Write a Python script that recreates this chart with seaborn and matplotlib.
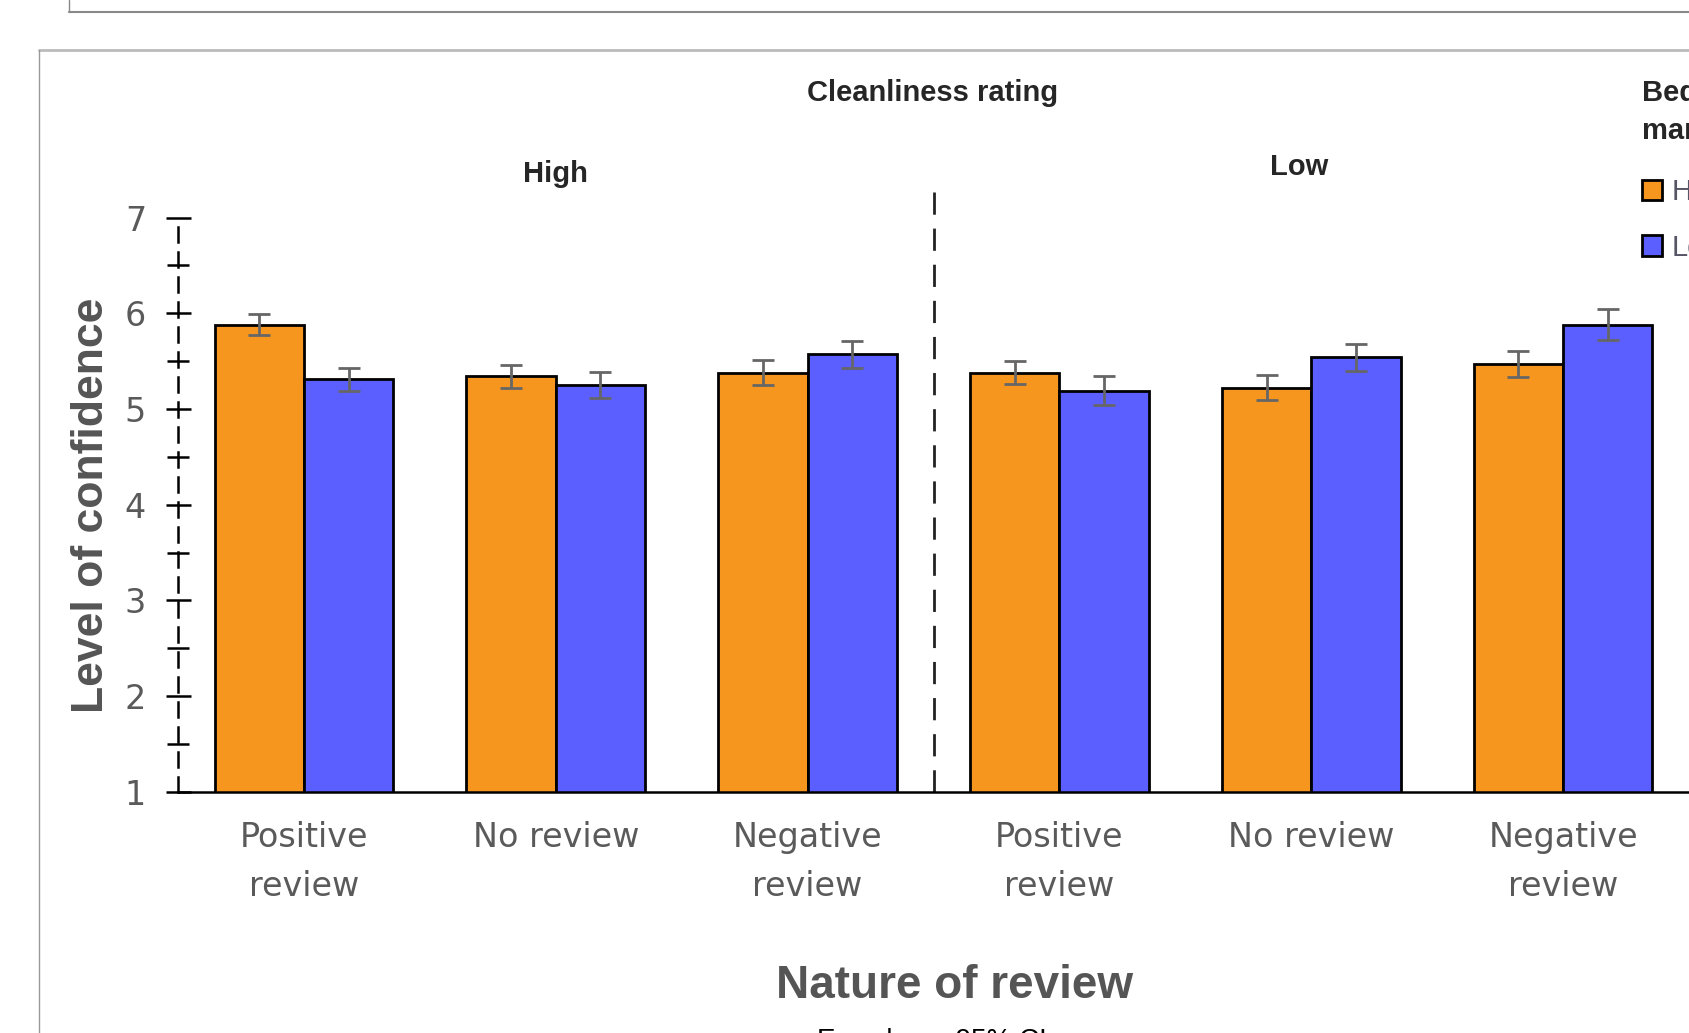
import matplotlib
matplotlib.use('Agg')
from matplotlib import pyplot as plt
from matplotlib.lines import Line2D
from matplotlib.patches import Patch
from matplotlib.ticker import MultipleLocator
from matplotlib.transforms import blended_transform_factory
import seaborn as sns
import pandas as pd

# data
cleanliness = ['High', 'High', 'High', 'Low', 'Low', 'Low']
reviews = ['Positive\nreview', 'No review', 'Negative\nreview'] * 2
levels = ['High', 'Low']
high_means = [5.88, 5.34, 5.38, 5.38, 5.22, 5.47]
high_errs = [0.11, 0.12, 0.13, 0.12, 0.13, 0.14]
low_means = [5.31, 5.25, 5.57, 5.19, 5.54, 5.88]
low_errs = [0.12, 0.14, 0.14, 0.15, 0.14, 0.16]
colors = ['#F7961E', '#5B5FFF']

groups = [f'{c}|{r}' for c, r in zip(cleanliness, reviews)]
df = pd.DataFrame({
    'group': groups * 2,
    'manager': ['High'] * 6 + ['Low'] * 6,
    'mean': high_means + low_means,
})

sns.set_style('white')
plt.rcParams['font.family'] = ['Liberation Sans', 'DejaVu Sans']

fig = plt.figure(figsize=(16.89, 10.33), dpi=100)
ax = fig.add_axes([0.1054, 0.2335, 0.8946, 0.5559])

sns.barplot(data=df, x='group', y='mean', hue='manager', order=groups,
            hue_order=levels, palette=colors, width=0.71, errorbar=None,
            saturation=1, edgecolor='black', linewidth=2, legend=False, ax=ax)

for container, errs in zip(ax.containers, [high_errs, low_errs]):
    for bar, e in zip(container, errs):
        ax.errorbar(bar.get_x() + bar.get_width() / 2, bar.get_height(), yerr=e,
                    fmt='none', ecolor='#666666', elinewidth=2, capsize=8,
                    capthick=2, zorder=5)

ax.set_ylim(1, 7)
ax.set_xlim(-0.5, 5.5)
ax.set_yticks(range(1, 8))
ax.yaxis.set_minor_locator(MultipleLocator(0.5))
ax.set_xticks(range(6))
ax.set_xticklabels(reviews, fontsize=24, color='#5a5a5a',
                   family='DejaVu Sans', linespacing=1.6)
ax.tick_params(axis='x', length=0, pad=21)
ax.tick_params(axis='y', which='both', left=True)
ax.tick_params(axis='y', which='major', direction='inout', length=18, width=1.8,
               labelsize=24, labelcolor='#5a5a5a', pad=14, color='black')
ax.tick_params(axis='y', which='minor', direction='inout', length=16, width=1.8,
               color='black')
for lab in ax.get_yticklabels():
    lab.set_family('DejaVu Sans')
ax.set_xlabel('')
ax.set_ylabel('')

sns.despine(ax=ax, top=True, right=True)
ax.spines['left'].set_linestyle((0, (6, 4)))
ax.spines['left'].set_linewidth(1.8)
ax.spines['left'].set_color('black')
ax.spines['bottom'].set_linewidth(1.8)
ax.spines['bottom'].set_color('black')

# separator between the two cleanliness panels
ax.axvline(2.5, ymin=0, ymax=1.055, color='#222222', lw=2,
           linestyle=(0, (8, 5)), clip_on=False)

# titles
fig.text(933 / 1689, 1 - 93 / 1033, 'Cleanliness rating', ha='center',
         va='center', fontsize=21, fontweight='bold')
mixed = blended_transform_factory(ax.transData, fig.transFigure)
ax.text(1, 1 - 174 / 1033, 'High', transform=mixed, ha='center',
        va='center', fontsize=21, fontweight='bold')
ax.text(3.95, 1 - 167 / 1033, 'Low', transform=mixed, ha='center',
        va='center', fontsize=21, fontweight='bold')

fig.text(92 / 1689, 1 - 505 / 1033, 'Level of confidence', rotation=90,
         ha='center', va='center', fontsize=32, fontweight='bold', color='#555555')
fig.text(954 / 1689, 1 - 986 / 1033, 'Nature of review', ha='center',
         va='center', fontsize=33, fontweight='bold', color='#555555')
fig.text(932 / 1689, 1 - 1028 / 1033, 'Error bars: 95% CI', ha='center',
         va='top', fontsize=20, color='black')

# legend
fig.text(1642 / 1689, 1 - 112 / 1033, 'Bed\nmarks', ha='left', va='center',
         fontsize=21, fontweight='bold', linespacing=1.45)
handles = [Patch(facecolor=c, edgecolor='black', linewidth=2) for c in colors]
leg = fig.legend(handles, levels, loc='upper left',
                 bbox_to_anchor=(1642 / 1689, 1 - 178 / 1033), frameon=False,
                 fontsize=21, handlelength=0.7, handleheight=0.7,
                 handletextpad=0.3, labelspacing=0.95, borderpad=0,
                 borderaxespad=0)
for t in leg.get_texts():
    t.set_color('#555566')

# panel frames
fig.add_artist(Line2D([69 / 1689, 1], [1 - 12 / 1033] * 2, color='#888888', lw=1.5))
fig.add_artist(Line2D([69 / 1689] * 2, [1, 1 - 12 / 1033], color='#888888', lw=1))
fig.add_artist(Line2D([39 / 1689, 1], [1 - 50 / 1033] * 2, color='#bbbbbb', lw=2))
fig.add_artist(Line2D([39 / 1689] * 2, [1 - 50 / 1033, 0], color='#999999', lw=1))

fig.savefig('out.png', dpi=100)
